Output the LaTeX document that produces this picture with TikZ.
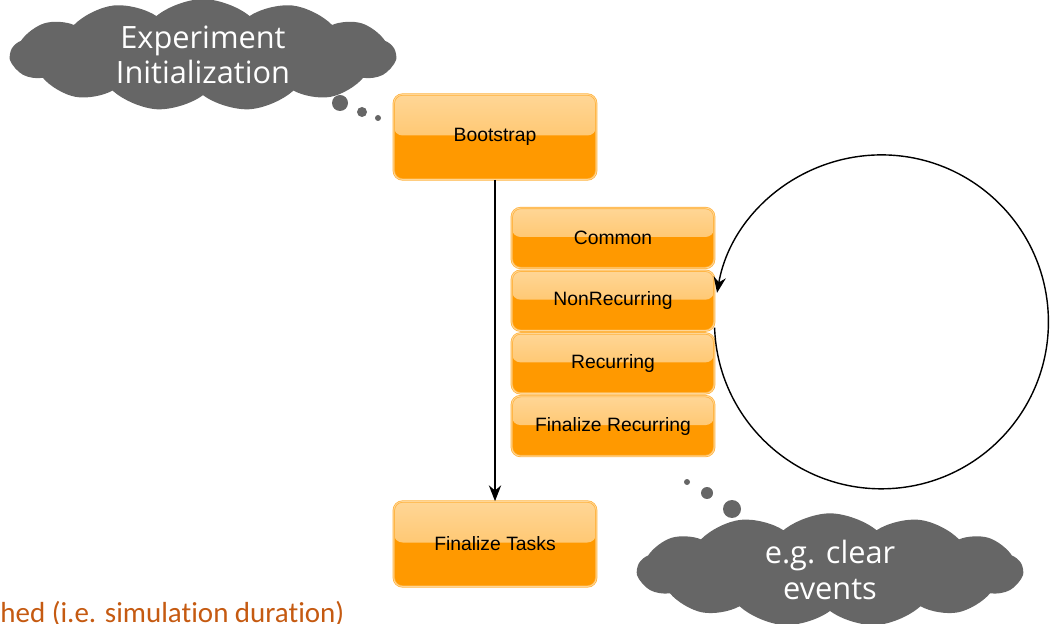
\documentclass[tikz,border=0pt]{standalone}
\usepackage{fontspec}
\setmainfont{Liberation Sans}
\newfontfamily\cloudfont{Open Sans}
\newfontfamily\notefont[Ligatures=NoCommon]{Carlito}
\usepackage{tikz}
\usetikzlibrary{positioning,arrows.meta,shapes.symbols}

\definecolor{boxorange}{RGB}{255,153,0}
\definecolor{boxlight}{RGB}{255,186,80}
\definecolor{boxtop}{RGB}{255,214,150}
\definecolor{boxedge}{RGB}{255,178,60}
\definecolor{cloudgray}{RGB}{102,102,102}
\definecolor{noteorange}{RGB}{197,90,17}

\begin{document}
\begin{tikzpicture}[
    x=0.02cm, y=-0.02cm,
    node distance=0.04cm and 0.9cm,
    task/.style={draw=boxedge, double=boxtop, double distance=0.5pt, rounded corners=5pt,
        align=center, minimum width=4.05cm, minimum height=1.2cm, fill=boxorange,
        font=\fontsize{11}{13}\selectfont,
        path picture={\fill[top color=boxtop, bottom color=boxlight]
            (path picture bounding box.north west) rectangle
            ([yshift=-0.58cm]path picture bounding box.north east);}},
    bigtask/.style={task, minimum height=1.7cm,
        path picture={\fill[top color=boxtop, bottom color=boxlight]
            (path picture bounding box.north west) rectangle
            ([yshift=-0.82cm]path picture bounding box.north east);}},
    thought/.style={cloud, cloud puffs=13, cloud puff arc=80, aspect=4.5, fill=cloudgray,
        text=white, align=center, inner sep=0pt, minimum width=7.7cm, minimum height=1.95cm,
        font=\cloudfont\fontsize{17.5}{20}\selectfont},
    flow/.style={draw, -{Stealth[length=9pt,width=7pt]}, line width=0.8pt}
]
\useasboundingbox (0,0) rectangle (1054,624);

% main flow
\node[bigtask] (boot) at (495,137) {Bootstrap};
\node[bigtask] (fintasks) at (495,544) {Finalize Tasks};

% per-step tasks
\node[task] (common) at (613,238) {Common};
\node[task, below=of common] (nonrec) {NonRecurring};
\node[task, below=of nonrec] (rec) {Recurring};
\node[task, below=of rec] (finrec) {Finalize Recurring};

\draw[flow] (boot) -- (fintasks);
\draw[flow] ([yshift=-0.54cm]nonrec.east) arc[start angle=182, end angle=530, radius=3.34cm];

% thought clouds
\node[thought] (initcloud) at (203,55) {Experiment\\Initialization};
\fill[cloudgray] (340,103) circle[radius=0.16cm];
\fill[cloudgray] (362,112) circle[radius=0.1cm];
\fill[cloudgray] (378,118) circle[radius=0.06cm];

\node[thought] (clearcloud) at (830,570) {e.g. clear\\events};
\fill[cloudgray] (687,482) circle[radius=0.06cm];
\fill[cloudgray] (707,493) circle[radius=0.12cm];
\fill[cloudgray] (732,509) circle[radius=0.18cm];

\node[anchor=base west, inner sep=0pt, text=noteorange, font=\notefont\fontsize{16.5}{19}\selectfont]
    (note) at (0,622) {hed (i.e. simulation duration)};
\end{tikzpicture}
\end{document}
